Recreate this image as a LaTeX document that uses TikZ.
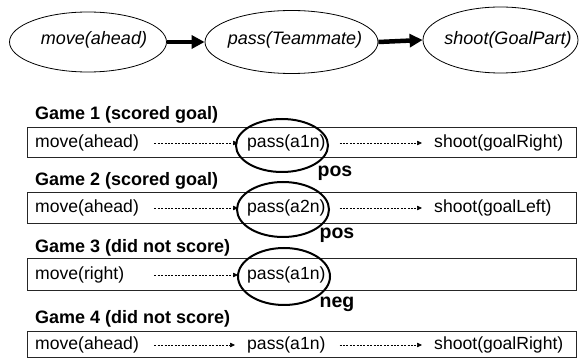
\documentclass[tikz,border=0pt]{standalone}
\usepackage{fontspec}
\setmainfont{Liberation Sans}
\usetikzlibrary{arrows.meta,shapes.geometric}

\tikzset{
  topoval/.style={draw=black, line width=0.8pt, ellipse, inner sep=0pt},
  toptext/.style={font=\fontsize{18}{20}\selectfont\itshape, inner sep=0pt},
  bigarrow/.style={line width=4.5pt, -{Triangle[length=13pt,width=13pt]}},
  gamebox/.style={draw=black!85, line width=0.9pt, rectangle, inner sep=0pt,
    minimum width=549pt, minimum height=30pt},
  gametitle/.style={font=\fontsize{18}{20}\selectfont\bfseries, anchor=west, inner sep=0pt},
  actmove/.style={font=\fontsize{17.6}{20}\selectfont, anchor=west, inner xsep=4pt,
    inner ysep=0pt, text width=115pt, align=left},
  actother/.style={font=\fontsize{17.6}{20}\selectfont, anchor=west, inner xsep=4pt, inner ysep=0pt},
  flow/.style={line width=0.6pt, dash pattern=on 2pt off 1.4pt,
    -{Triangle[length=5pt,width=4.5pt]}},
  ring/.style={draw=black, line width=2pt, ellipse, inner sep=0pt},
  verdict/.style={font=\fontsize{19.5}{21}\selectfont\bfseries, inner sep=0pt}
}

\begin{document}
\begin{tikzpicture}[x=1pt, y=-1pt]
\useasboundingbox (0,0) rectangle (579,358);

% general plan
\node[topoval, minimum width=157pt, minimum height=60pt] (t1) at (88,42) {};
\node[topoval, minimum width=173pt, minimum height=63pt] (t2) at (291.5,42) {};
\node[topoval, minimum width=155pt, minimum height=66pt] (t3) at (500.5,40) {};
\node[toptext] (t1txt) at (94,40) {move(ahead)};
\node[toptext] (t2txt) at (295,40) {pass(Teammate)};
\node[toptext] (t3txt) at (508,40) {shoot(GoalPart)};
\draw[bigarrow] (t1.east) -- (t2.west);
\draw[bigarrow] (t2.east) -- (t3.west);

% game traces
\node[gametitle] (g1) at (35,115) {Game 1 (scored goal)};
\node[gamebox] (b1) at (301.5,142) {};
\node[actmove] (m1) at (31,143) {move(ahead)};
\node[actother] (p1) at (243,143) {pass(a1n)};
\node[actother] (s1) at (430,143) {shoot(goalRight)};
\draw[flow, shorten >=5pt] (m1) -- (p1);
\draw[flow, shorten <=10pt, shorten >=8pt] (p1) -- (s1);

\node[gametitle] (g2) at (35,181) {Game 2 (scored goal)};
\node[gamebox, minimum height=31pt] (b2) at (301.5,207.5) {};
\node[actmove] (m2) at (31,208) {move(ahead)};
\node[actother] (p2) at (243,208) {pass(a2n)};
\node[actother] (s2) at (430,208) {shoot(goalLeft)};
\draw[flow, shorten >=5pt] (m2) -- (p2);
\draw[flow, shorten <=10pt, shorten >=8pt] (p2) -- (s2);

\node[gametitle] (g3) at (35,248) {Game 3 (did not score)};
\node[gamebox, minimum height=32pt] (b3) at (301.5,274) {};
\node[actmove] (m3) at (31,275) {move(right)};
\node[actother] (p3) at (243,275) {pass(a1n)};
\draw[flow, shorten >=5pt] (m3) -- (p3);

\node[gametitle] (g4) at (35,319) {Game 4 (did not score)};
\node[gamebox, minimum height=26pt] (b4) at (301.5,344.5) {};
\node[actmove] (m4) at (31,345) {move(ahead)};
\node[actother] (p4) at (243,345) {pass(a1n)};
\node[actother] (s4) at (430,345) {shoot(goalRight)};
\draw[flow, shorten >=8pt] (m4) -- (p4);
\draw[flow, shorten <=10pt, shorten >=8pt] (p4) -- (s4);

% highlighted passes and their labels
\node[ring, minimum width=92pt, minimum height=53pt] (r1) at (282,145.5) {};
\node[ring, minimum width=92pt, minimum height=55pt] (r2) at (283,209.5) {};
\node[ring, minimum width=92pt, minimum height=57pt] (r3) at (284,276.5) {};
\node[verdict] (v1) at (335,173) {pos};
\node[verdict] (v2) at (337,235) {pos};
\node[verdict] (v3) at (337,304) {neg};
\end{tikzpicture}
\end{document}
